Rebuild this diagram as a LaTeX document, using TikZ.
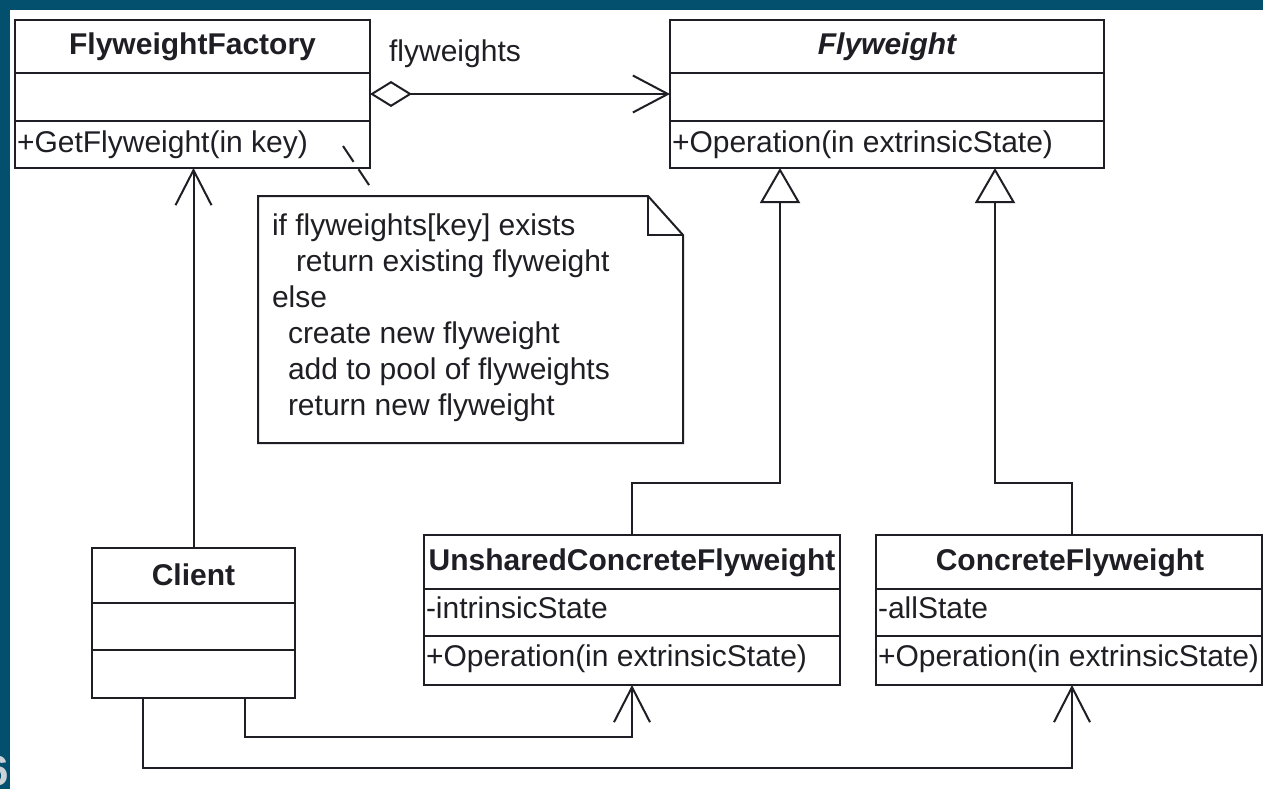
\documentclass[tikz,border=0pt]{standalone}
\usepackage{fontspec}
\setmainfont{Liberation Sans}
\usetikzlibrary{arrows.meta,calc}
\definecolor{slide}{RGB}{3,80,110}
\definecolor{ink}{RGB}{30,30,36}
\definecolor{pagenum}{RGB}{205,210,215}
\begin{document}
\begin{tikzpicture}[x=1pt,y=-1pt,
  every node/.style={font=\fontsize{30}{36}\selectfont, text=ink, inner sep=0pt, outer sep=0pt},
  classbox/.style={draw=ink, line width=2pt, fill=white, anchor=north west},
  classname/.style={anchor=base, font=\fontsize{30}{36}\selectfont\bfseries},
  member/.style={anchor=base west},
  memoline/.style={anchor=base west},
  wire/.style={draw=ink, line width=2pt},
  assoc/.style={wire, -{Straight Barb[length=35pt,width=36pt]}},
  inherit/.style={wire, -{Triangle[length=35pt,width=40pt,fill=white]}},
  aggr/.style={wire, {Diamond[length=42pt,width=26pt,fill=white]}-{Straight Barb[length=35pt,width=37pt]}},
]
\useasboundingbox (0,0) rectangle (1263,789);
% slide background and frame
\fill[white] (0,0) rectangle (1263,789);
\fill[slide] (0,0) rectangle (1263,10);
\fill[slide] (0,0) rectangle (10,789);
\begin{scope}
  \clip (0,10) rectangle (10,789);
  \node[anchor=base east, text=pagenum, font=\fontsize{42}{48}\selectfont\bfseries] (pageno) at (9,785) {6};
\end{scope}

% FlyweightFactory
\node[classbox, minimum width=355pt, minimum height=148pt] (factory) at (15,20) {};
\draw[ink, line width=2pt] (15,73) -- (370,73) (15,121) -- (370,121);
\node[classname] (factoryname) at (192.5,55) {FlyweightFactory};
\node[member] (factoryop) at (17,152) {+GetFlyweight(in key)};

% Flyweight
\node[classbox, minimum width=434pt, minimum height=148pt] (fw) at (670,20) {};
\draw[ink, line width=2pt] (670,73) -- (1104,73) (670,121) -- (1104,121);
\node[classname, font=\fontsize{30}{36}\selectfont\bfseries\itshape] (fwname) at (887,55) {Flyweight};
\node[member] (fwop) at (672,152) {+Operation(in extrinsicState)};

% Client
\node[classbox, minimum width=203pt, minimum height=150pt] (client) at (92,548) {};
\draw[ink, line width=2pt] (92,603) -- (295,603) (92,650) -- (295,650);
\node[classname] (clientname) at (193.5,585) {Client};

% UnsharedConcreteFlyweight
\node[classbox, minimum width=416pt, minimum height=150pt] (unshared) at (424,535) {};
\draw[ink, line width=2pt] (424,589) -- (840,589) (424,636) -- (840,636);
\node[classname] (unsharedname) at (632,570) {UnsharedConcreteFlyweight};
\node[member] (unsharedattr) at (426,618) {-intrinsicState};
\node[member] (unsharedop) at (426,666) {+Operation(in extrinsicState)};

% ConcreteFlyweight
\node[classbox, minimum width=386pt, minimum height=150pt] (concrete) at (876,535) {};
\draw[ink, line width=2pt] (876,589) -- (1262,589) (876,636) -- (1262,636);
\node[classname] (concretename) at (1070,570) {ConcreteFlyweight};
\node[member] (concreteattr) at (878,618) {-allState};
\node[member] (concreteop) at (878,666) {+Operation(in extrinsicState)};

% note attached to GetFlyweight
\draw[ink, line width=2pt, fill=white] (258,196) -- (648,196) -- (683,235) -- (683,443) -- (258,443) -- cycle;
\draw[ink, line width=2pt] (648,196) -- (648,235) -- (683,235);
\node[memoline] (memo1) at (272,235) {if flyweights[key] exists};
\node[memoline] (memo2) at (296,271) {return existing flyweight};
\node[memoline] (memo3) at (272,307) {else};
\node[memoline] (memo4) at (288,343) {create new flyweight};
\node[memoline] (memo5) at (288,379) {add to pool of flyweights};
\node[memoline] (memo6) at (288,415) {return new flyweight};
\coordinate (memoanchor) at (343,146);
\coordinate (memotop) at (373,191);
\draw[ink, line width=2pt, dash pattern=on 19pt off 9pt] (memoanchor) -- (memotop);

% aggregation: factory keeps the pool of flyweights
\draw[aggr] (factory.east) -- (fw.west);
\node[anchor=base] (poolname) at (455,62) {flyweights};

% client uses the factory
\draw[assoc] (client.north) -- (client.north |- factory.south);

% generalisations
\draw[inherit] (unshared.north) -- ++(0,-52) -| ($(fw.south)+(-107,0)$);
\draw[inherit] ($(concrete.north)+(3,0)$) -- ++(0,-52) -| ($(fw.south)+(108,0)$);

% client uses the concrete flyweights
\coordinate (clientleft) at ($(client.south)+(-51,0)$);
\coordinate (clientright) at ($(client.south)+(51,0)$);
\draw[assoc] (clientright) -- ++(0,39) -| (unshared.south);
\draw[assoc] (clientleft) -- ++(0,70) -| ($(concrete.south)+(3,0)$);
\end{tikzpicture}
\end{document}
